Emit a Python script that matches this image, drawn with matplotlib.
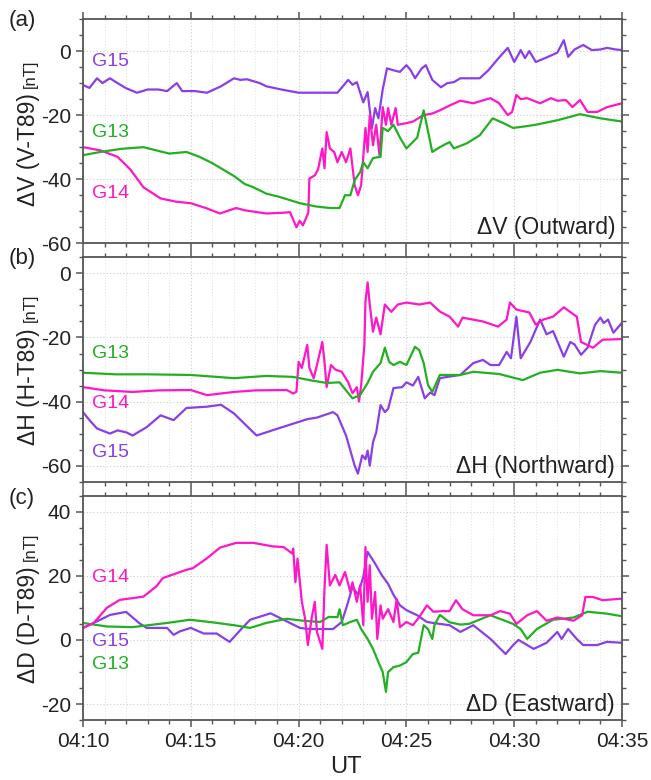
import numpy as np
import matplotlib
matplotlib.use("Agg")
import matplotlib.pyplot as plt
from matplotlib.ticker import MultipleLocator, FuncFormatter

plt.rcParams["font.family"] = ["Liberation Sans", "DejaVu Sans"]
plt.rcParams["axes.unicode_minus"] = False

# minutes after 04:10 UT, residual field in nT
dv_g15 = np.array([
    (0, -10.6), (0.3, -11.5), (0.65, -8.5), (0.9, -10), (1.25, -8.5), (1.6, -10), (2.0, -11.6),
    (2.5, -13), (3.0, -12), (3.5, -12), (3.9, -12.5), (4.35, -10), (4.6, -12.5), (5.2, -12.5),
    (5.75, -13), (6.4, -11), (7.0, -8.5), (7.3, -9), (7.6, -8.8), (8.2, -10), (8.5, -11),
    (9.2, -12), (10.0, -13), (10.5, -13), (11.2, -13), (11.8, -13), (12.3, -9), (12.5, -10.5),
    (12.7, -9.7), (13.0, -16), (13.2, -12.8), (13.4, -24), (13.55, -17.8), (13.7, -21),
    (13.9, -12), (14.1, -5.4), (14.4, -6), (14.7, -6.5), (15.0, -4.4), (15.2, -6), (15.4, -8.5),
    (15.7, -5.5), (15.9, -4.4), (16.2, -9), (16.6, -11.3), (16.9, -10), (17.2, -9.7),
    (17.5, -8.5), (18.0, -8.5), (18.4, -8.5), (18.8, -6), (19.3, -2), (19.7, 1), (20.0, -3.4),
    (20.2, -1), (20.3, 0.3), (20.5, -2.2), (20.7, 0), (21.0, -3.4), (21.5, -2), (22.0, -0.5),
    (22.3, 3.4), (22.5, -1.8), (22.8, 0.5), (23.2, 1.9), (23.6, 0.3), (24.0, 0.5), (24.3, 1),
    (24.7, 0.5), (25, 0.3)])
dv_g14 = np.array([
    (0, -30), (0.8, -31), (1.6, -33), (2.2, -37), (2.8, -42.5), (3.6, -46), (4.3, -47),
    (5, -47.5), (5.7, -49), (6.35, -50.7), (7.1, -49), (7.5, -49.7), (8.5, -50.7), (9.2, -50.5),
    (9.6, -50.3), (9.9, -55), (10.05, -53), (10.2, -54.4), (10.45, -50.5), (10.5, -39.8),
    (10.75, -38.8), (10.9, -37), (11.1, -30.4), (11.2, -36.6), (11.3, -25.3), (11.45, -30.4),
    (11.65, -31.5), (11.8, -34.7), (12.0, -31.5), (12.2, -34.7), (12.4, -30.4), (12.6, -41.9),
    (12.75, -45), (12.9, -41.9), (13.1, -24), (13.2, -31.5), (13.3, -20), (13.45, -29.4),
    (13.6, -23), (13.75, -32.5), (13.9, -17.5), (14.05, -23), (14.15, -17.8), (14.3, -23),
    (14.5, -17.8), (14.6, -23), (15.0, -22.5), (15.3, -22), (15.8, -20), (16.2, -19.5),
    (16.55, -18.5), (17.0, -17), (17.5, -15.5), (18.1, -16.3), (18.5, -15.5), (18.9, -14.7),
    (19.3, -16.3), (19.7, -20), (19.9, -19), (20.1, -13.7), (20.3, -15), (20.6, -14.7),
    (20.9, -15.5), (21.2, -16.3), (21.7, -14.7), (22.0, -15.5), (22.4, -15.3), (22.7, -17.5),
    (23.05, -15.3), (23.4, -19), (23.85, -19), (24.3, -17.5), (25, -16.3)])
dv_g13 = np.array([
    (0, -32.5), (0.8, -31.5), (1.8, -30.5), (2.8, -30), (3.4, -31), (4.0, -32), (4.8, -31.5),
    (5.4, -33), (6.0, -35), (6.5, -37), (7.0, -39), (7.5, -41.5), (7.9, -42.5), (8.5, -44.5),
    (9.1, -45.5), (10.06, -47.5), (10.8, -48.5), (11.45, -49), (11.9, -49), (12.15, -45),
    (12.4, -45), (12.6, -40.3), (12.85, -37.8), (13.0, -34.7), (13.2, -36.6), (13.45, -33.4),
    (13.8, -33), (13.9, -24), (14.15, -25), (14.4, -23), (14.7, -27), (15.0, -30.4),
    (15.5, -27), (15.8, -18.5), (16.2, -31.5), (16.55, -30), (17.0, -28.4), (17.2, -30.4),
    (17.8, -28.8), (18.4, -26.3), (19.0, -21), (19.5, -22.5), (19.95, -24), (20.5, -23.5),
    (21.0, -23), (22.0, -21.6), (23.05, -19.7), (24.0, -21), (25, -22)])

dh_g15 = np.array([
    (0, -43.3), (0.3, -45.8), (0.65, -48.4), (1.25, -50), (1.6, -49), (2.0, -49.6), (2.3, -50.6),
    (2.95, -48), (3.6, -44.3), (4.2, -45.8), (4.8, -42), (5.75, -41.6), (6.4, -41), (7.0, -43.7),
    (7.5, -47), (8.05, -50.6), (9.0, -48.5), (9.75, -46.9), (10.4, -45.5), (10.85, -45),
    (11.6, -43.3), (11.8, -44.3), (12.2, -50.6), (12.6, -60), (12.75, -62.5), (12.95, -56.8),
    (13.1, -58), (13.2, -55.3), (13.3, -60), (13.45, -52.7), (13.6, -49.6), (13.8, -41.1),
    (14.0, -43.3), (14.15, -42.3), (14.4, -35.8), (14.8, -35.5), (15.0, -34), (15.3, -35),
    (15.55, -32.3), (15.85, -39), (16.1, -37.2), (16.3, -38), (16.55, -32.7), (17.0, -32.2),
    (17.5, -31.7), (18.1, -28), (18.55, -27), (18.9, -28.6), (19.3, -28.6), (19.65, -24.5),
    (19.85, -26.5), (20.1, -13.5), (20.3, -26.5), (20.75, -21.4), (21.2, -14.4), (21.5, -19),
    (21.8, -18), (22.3, -26), (22.6, -21.4), (22.8, -22.2), (23.1, -25.4), (23.4, -23.2),
    (23.75, -16), (24.0, -13.8), (24.15, -15.5), (24.35, -14.4), (24.6, -18.5), (25, -15.4)])
dh_g14 = np.array([
    (0, -35.5), (1.0, -36.5), (2.3, -37), (3.5, -36.5), (5.0, -36.4), (5.75, -38), (7.0, -37),
    (8.0, -36.5), (9.45, -36.4), (9.75, -37.5), (9.9, -36.9), (10.0, -27.6), (10.15, -29.5),
    (10.4, -22.3), (10.5, -29.5), (10.7, -32.7), (10.85, -28.6), (11.1, -21.4), (11.2, -27.6),
    (11.3, -35.5), (11.5, -28.6), (11.7, -30), (12.0, -30.7), (12.3, -34), (12.5, -37.4),
    (12.7, -35.5), (12.8, -40), (12.9, -35), (13.05, -22.3), (13.1, -8.8), (13.2, -2.8),
    (13.3, -9.7), (13.45, -18.2), (13.6, -13.8), (13.8, -19), (14.0, -9.7), (14.3, -12),
    (14.6, -9.7), (15.0, -9.1), (15.6, -9.7), (16.1, -9.1), (16.55, -11.9), (17.0, -13.5),
    (17.4, -16.6), (17.6, -13.8), (18.55, -15), (19.25, -16.6), (19.65, -14.4), (19.8, -9.1),
    (20.1, -11.3), (20.7, -12.2), (21.0, -16), (21.35, -14.4), (21.8, -13.5), (22.3, -10.6),
    (22.9, -13.5), (23.1, -21.4), (23.65, -23.2), (24.1, -20.7), (25, -20.5)])
dh_g13 = np.array([
    (0, -31), (1.5, -31.5), (3.0, -31.5), (5.0, -31.7), (7.0, -32.7), (8.5, -32), (9.75, -32.3),
    (10.5, -33.3), (11.3, -34.2), (11.9, -34), (12.5, -39), (12.85, -38), (13.2, -34.2),
    (13.45, -30.7), (13.8, -28), (14.0, -23.2), (14.2, -27.6), (14.4, -28.6), (14.7, -27.6),
    (15.0, -28.6), (15.4, -22.9), (15.6, -24), (15.8, -28), (16.0, -34.8), (16.2, -37),
    (16.55, -31.7), (17.5, -31.7), (18.1, -30.7), (19.3, -31.4), (20.4, -33.3), (21.2, -31),
    (22.0, -30.1), (23.05, -31.2), (24.0, -30.5), (25, -31)])

dd_g14 = np.array([
    (0, 3.75), (0.5, 5.3), (1.1, 10), (1.7, 12.5), (2.8, 13.5), (3.4, 16.7), (3.7, 19.3),
    (4.8, 21.9), (5.1, 22.4), (5.75, 25.5), (6.35, 28.8), (7.1, 30.3), (7.9, 30.3), (8.8, 29.2),
    (9.3, 29), (9.7, 27), (9.75, 28.5), (9.85, 18), (9.95, 25.4), (10.15, 11.9), (10.3, 6.6),
    (10.43, -1.6), (10.6, 6.6), (10.75, 11.9), (10.85, 2.5), (11.1, -2.8), (11.2, 15.9),
    (11.3, 29.7), (11.45, 17), (11.7, 20.3), (11.9, 17), (12.15, 21.2), (12.4, 15), (12.5, 18),
    (12.7, 11.9), (12.85, 17), (13.0, 4.6), (13.1, 29), (13.2, 11.9), (13.3, 23.3), (13.4, 6.6),
    (13.55, 15), (13.65, 0.3), (13.8, 10.8), (13.9, 6.6), (14.15, 9.6), (14.4, 5.6),
    (14.55, 12.8), (14.7, 4), (15.0, 5.6), (15.3, 4.6), (15.6, 7.2), (15.95, 10.8), (16.25, 8.8),
    (16.7, 9), (17.0, 9), (17.3, 12.4), (17.6, 9.6), (18.1, 7.7), (18.9, 7.7), (19.35, 9),
    (19.8, 8.2), (20.1, 5), (20.6, 7.7), (21.05, 9), (21.5, 6), (22.0, 7), (22.75, 6),
    (23.15, 7.7), (23.3, 13.4), (23.65, 13.4), (24.1, 12.4), (25, 12.9)])
dd_g13 = np.array([
    (0, 5.3), (1.1, 4.2), (2.3, 4), (3.9, 5.3), (4.95, 6.3), (6.0, 5.5), (7.0, 4.6), (7.75, 3.75),
    (8.5, 5.3), (9.45, 6.6), (10.2, 6), (11.0, 5.6), (11.4, 7.2), (11.8, 7.1), (11.9, 9.6),
    (12.05, 4.6), (12.4, 5.6), (12.7, 6.3), (12.9, 3.4), (13.2, 0.3), (13.45, -2.8), (13.7, -6.9),
    (13.9, -10), (14.05, -16.2), (14.15, -10), (14.4, -8.5), (14.7, -8), (15.0, -6.9),
    (15.3, -4.4), (15.55, -4), (15.8, 4.6), (16.0, 3.4), (16.2, 0.3), (16.3, 4.6), (16.55, 7.8),
    (17.0, 5.5), (17.5, 4.8), (17.9, 5), (18.9, 7.7), (19.95, 5), (20.3, 3.4), (20.6, 0.3),
    (21.05, 3.4), (21.8, 6.3), (22.75, 7), (23.4, 8.8), (24.3, 8.2), (25, 7.4)])
dd_g15 = np.array([
    (0, 3.75), (0.8, 6.3), (1.25, 7.8), (2.0, 8.75), (2.6, 5.3), (2.95, 3.75), (3.9, 3.75),
    (4.2, 1.6), (4.5, 2.7), (5.0, 3.75), (5.6, 2), (6.2, 2), (6.8, -0.6), (7.3, 3.1), (7.75, 6.3),
    (8.7, 8.3), (9.3, 6.3), (10.06, 3.75), (10.5, 3.4), (11.6, 3.4), (12.0, 5.6), (12.25, 10.8),
    (12.5, 16.6), (12.75, 14.1), (13.0, 19.7), (13.2, 27.5), (13.4, 25.4), (13.55, 23.8),
    (13.85, 20.3), (14.15, 17.5), (14.4, 14.1), (14.7, 10.8), (15.0, 9.3), (15.5, 7.7),
    (15.95, 5.6), (16.55, 5), (17.0, 4.6), (17.5, 2.5), (18.1, 4.6), (18.9, 0.3), (19.6, -4.4),
    (19.95, -1.6), (20.2, 0), (20.6, -1.6), (20.9, -2.8), (21.5, -0.9), (22.0, 2.5), (22.2, 0.3),
    (22.5, 3.4), (22.9, 0.3), (23.2, -1.6), (23.85, -1.6), (24.3, -0.6), (25, -0.9)])

c15 = "#8a3fe6"
c14 = "#ff16c8"
c13 = "#22b022"

panels = [
    dict(tag="(a)", comp="V", name="Outward", ylim=(-60, 10),
         series=[(dv_g15, c15), (dv_g14, c14), (dv_g13, c13)],
         labels=[("G15", -3.4, c15), ("G13", -25.3, c13), ("G14", -44.4, c14)]),
    dict(tag="(b)", comp="H", name="Northward", ylim=(-65, 5),
         series=[(dh_g15, c15), (dh_g14, c14), (dh_g13, c13)],
         labels=[("G13", -25, c13), ("G14", -40.5, c14), ("G15", -55.9, c15)]),
    dict(tag="(c)", comp="D", name="Eastward", ylim=(-25, 45),
         series=[(dd_g15, c15), (dd_g13, c13), (dd_g14, c14)],
         labels=[("G14", 19.4, c14), ("G15", -0.6, c15), ("G13", -7.8, c13)]),
]

fig, axes = plt.subplots(3, 1, figsize=(6.51, 7.8), dpi=100, sharex=True)
fig.subplots_adjust(left=0.1275, right=0.9555, top=0.9756, bottom=0.0769, hspace=0.063)

tag_y = [0.974, 0.669, 0.3615]

for ax, p, ty in zip(axes, panels, tag_y):
    for data, col in p["series"]:
        ax.plot(data[:, 0], data[:, 1], color=col, lw=1.6, solid_joinstyle="round")
    ax.set_xlim(0, 25)
    ax.set_ylim(*p["ylim"])
    ax.xaxis.set_major_locator(MultipleLocator(5))
    ax.xaxis.set_minor_locator(MultipleLocator(1))
    ax.yaxis.set_major_locator(MultipleLocator(20))
    ax.yaxis.set_minor_locator(MultipleLocator(5))
    ax.grid(which="major", ls=(0, (1, 2)), color="#cccccc", lw=0.8)
    ax.grid(which="minor", axis="x", ls=(0, (1, 2)), color="#e0e0e0", lw=0.7)
    ax.set_axisbelow(True)
    ax.tick_params(which="both", direction="out", top=True, right=True,
                   colors="#555555", labelcolor="#222222", labelsize=15)
    ax.tick_params(which="major", length=5, width=1.1)
    ax.tick_params(which="minor", length=3, width=1.0)
    for sp in ax.spines.values():
        sp.set_color("#555555")
        sp.set_linewidth(1.3)

    for txt, yv, col in p["labels"]:
        ax.text(0.42, yv, txt, color=col, fontsize=14, va="center", ha="left")
    ax.text(0.987, 0.04, "\u0394%s (%s)" % (p["comp"], p["name"]),
            transform=ax.transAxes, ha="right", va="baseline", fontsize=16.5, color="#222222")

    main = ax.text(-0.089, 0.165, "\u0394%s (%s-T89)" % (p["comp"], p["comp"]),
                   transform=ax.transAxes, rotation=90, rotation_mode="anchor",
                   ha="left", va="baseline", fontsize=16.5, color="#222222")
    ax.annotate("[nT]", xy=(0.79, 1.0), xycoords=main, xytext=(0, 4), textcoords="offset points",
                rotation=90, rotation_mode="anchor", ha="left", va="baseline",
                fontsize=12, color="#222222")

    fig.text(0.034, ty, p["tag"], ha="center", va="center", fontsize=16, color="#222222")

axes[-1].xaxis.set_major_formatter(FuncFormatter(lambda x, pos: "04:%02d" % (10 + int(round(x)))))
fig.text(0.531, 0.0167, "UT", ha="center", va="center", fontsize=17, color="#222222")

fig.savefig("out.png", dpi=100)
